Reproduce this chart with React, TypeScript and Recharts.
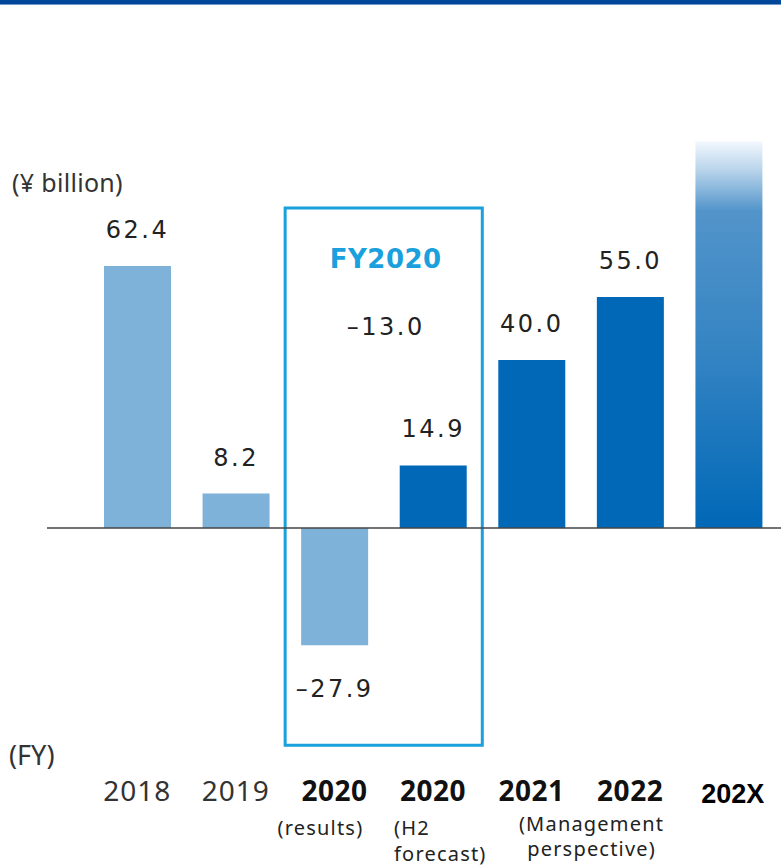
import React from "react";
import {
  BarChart,
  Bar,
  XAxis,
  YAxis,
  Cell,
  LabelList,
  ReferenceLine,
  ReferenceArea,
} from "recharts";

// ─── data ────────────────────────────────────────────────────────────────────
const categories = ["2018", "2019", "2020R", "2020H2", "2021", "2022", "202X"];
const tickYears = ["2018", "2019", "2020", "2020", "2021", "2022", "202X"];
const tickNotes: string[][] = [
  [],
  [],
  ["(results)"],
  ["(H2", "forecast)"],
  ["(Management", "perspective)"],
  [],
  [],
];
// operating profit, ¥ billion (202X has no printed value)
const profit = [62.4, 8.2, -27.9, 14.9, 40.0, 55.0, 92];
const showValue = [true, true, true, true, true, true, false];
const fy2020Total = -13.0;

const data = categories.map((key, i) => ({
  key,
  value: profit[i],
  label: showValue[i] ? profit[i] : null,
}));

// ─── styles ──────────────────────────────────────────────────────────────────
const LIGHT = "#7fb2d8";
const DARK = "#0068b7";
const BOX = "#1aa0dc";
const barFill = ["light", "light", "light", "dark", "dark", "dark", "grad"];
const fillFor = (k: string) =>
  k === "light" ? LIGHT : k === "dark" ? DARK : "url(#futureGrad)";

const AXIS_FONT = "'Noto Sans', sans-serif";
const W = 781;
const H = 867;

const fmt = (v: number) => (v < 0 ? "\u2013" + Math.abs(v).toFixed(1) : v.toFixed(1));

const ValueLabel = (p: any) => {
  const { x, y, width, height, value } = p;
  if (value == null) return null;
  const top = Math.min(y, y + height);
  const bottom = Math.max(y, y + height);
  const cx = x + width / 2;
  const ty = value >= 0 ? top - 28 : bottom + 52;
  return (
    <text
      x={cx}
      y={ty}
      textAnchor="middle"
      fontFamily="'DejaVu Sans', sans-serif"
      fontSize={24}
      letterSpacing={2.5}
      fill="#222"
    >
      {fmt(value)}
    </text>
  );
};

const YearTick = (props: any) => {
  const { x, y, payload } = props;
  const i = categories.indexOf(payload.value);
  const year = tickYears[i];
  const notes = tickNotes[i];
  const base = y + 42;
  let yearEl;
  if (i === 6) {
    yearEl = (
      <text x={x + 4} y={base + 2} textAnchor="middle" fontFamily="'Liberation Sans', Arial, sans-serif"
        fontWeight="bold" fontSize={27} fill="#000">
        {year}
      </text>
    );
  } else {
    yearEl = (
      <text x={x} y={base} textAnchor="middle" fontFamily={AXIS_FONT} fontSize={28}
        fontWeight={i >= 2 ? "bold" : "normal"} letterSpacing={i >= 2 ? 0.5 : 1}
        fill={i >= 2 ? "#111" : "#333"}>
        {year}
      </text>
    );
  }
  const noteStyle = { fontFamily: AXIS_FONT, fontSize: 20, letterSpacing: 1.2, fill: "#222" };
  let noteEls: React.ReactNode = null;
  if (i === 2) {
    noteEls = (
      <text x={x - 14} y={base + 34} textAnchor="middle" {...noteStyle}>
        {notes[0]}
      </text>
    );
  } else if (i === 3) {
    noteEls = notes.map((n, k) => (
      <text key={k} x={x - 39} y={base + 34 + k * 26} textAnchor="start" {...noteStyle}>
        {n}
      </text>
    ));
  } else if (i === 4) {
    noteEls = notes.map((n, k) => (
      <text key={k} x={x + 60} y={base + 30 + k * 25} textAnchor="middle" {...noteStyle}>
        {n}
      </text>
    ));
  }
  return (
    <g>
      {yearEl}
      {noteEls}
    </g>
  );
};

const FyLabel = (p: any) => {
  const vb = p.viewBox || {};
  const cx = vb.x + vb.width / 2 + 2;
  return (
    <g>
      <text x={cx} y={vb.y + 60} textAnchor="middle" fontFamily="'DejaVu Sans', sans-serif"
        fontWeight="bold" fontSize={26} letterSpacing={0.5} fill={BOX}>
        FY2020
      </text>
      <text x={cx} y={vb.y + 127} textAnchor="middle" fontFamily="'DejaVu Sans', sans-serif"
        fontSize={24} letterSpacing={2.5} fill="#222">
        {fmt(fy2020Total)}
      </text>
    </g>
  );
};

export default function App() {
  return (
    <div style={{ position: "absolute", left: 0, top: 0, width: W, height: H, background: "#fff", overflow: "hidden" }}>
      <div style={{ position: "absolute", left: 0, top: 0, width: W, height: 4, background: "#00469a" }} />
      <div style={{ position: "absolute", left: 0, top: 4, width: W, height: 1, background: "#6f97c9" }} />
      <div style={{ position: "absolute", left: 12, top: 167, fontFamily: "'Noto Sans', sans-serif", fontSize: 25, lineHeight: "30px", color: "#333", letterSpacing: 0.3 }}>
        (¥ billion)
      </div>
      <div style={{ position: "absolute", left: 9, top: 739, fontFamily: "'Noto Sans', sans-serif", fontSize: 27, lineHeight: "32px", color: "#333" }}>
        (FY)
      </div>
      <BarChart
        width={W}
        height={H}
        data={data}
        margin={{ top: 129, right: 0, bottom: 0, left: 47 }}
        barSize={67}
      >
        <defs>
          <linearGradient id="futureGrad" x1="0" y1="0" x2="0" y2="1">
            <stop offset="0" stopColor="#f2f7fd" />
            <stop offset="0.07" stopColor="#bcd6ec" />
            <stop offset="0.18" stopColor="#5294ca" />
            <stop offset="0.55" stopColor="#3484c3" />
            <stop offset="1" stopColor="#0068b7" />
          </linearGradient>
        </defs>
        <XAxis
          dataKey="key"
          axisLine={false}
          tickLine={false}
          tickSize={0}
          tickMargin={0}
          height={108}
          padding={{ left: 41, right: 3 }}
          interval={0}
          tick={<YearTick />}
        />
        <YAxis hide domain={[-55, 95]} allowDataOverflow />
        <ReferenceArea
          x1="2020R"
          x2="2020H2"
          y1={-51.7}
          y2={76.2}
          fill="none"
          stroke={BOX}
          strokeWidth={3}
          label={{ content: (p: any) => <FyLabel {...p} /> }}
        />
        <Bar dataKey="value" isAnimationActive={false}>
          {data.map((d, i) => (
            <Cell key={d.key} fill={fillFor(barFill[i])} />
          ))}
          <LabelList dataKey="label" content={(p: any) => <ValueLabel {...p} />} />
        </Bar>
        <ReferenceLine y={0} stroke="#444" strokeWidth={1.5} />
      </BarChart>
    </div>
  );
}
